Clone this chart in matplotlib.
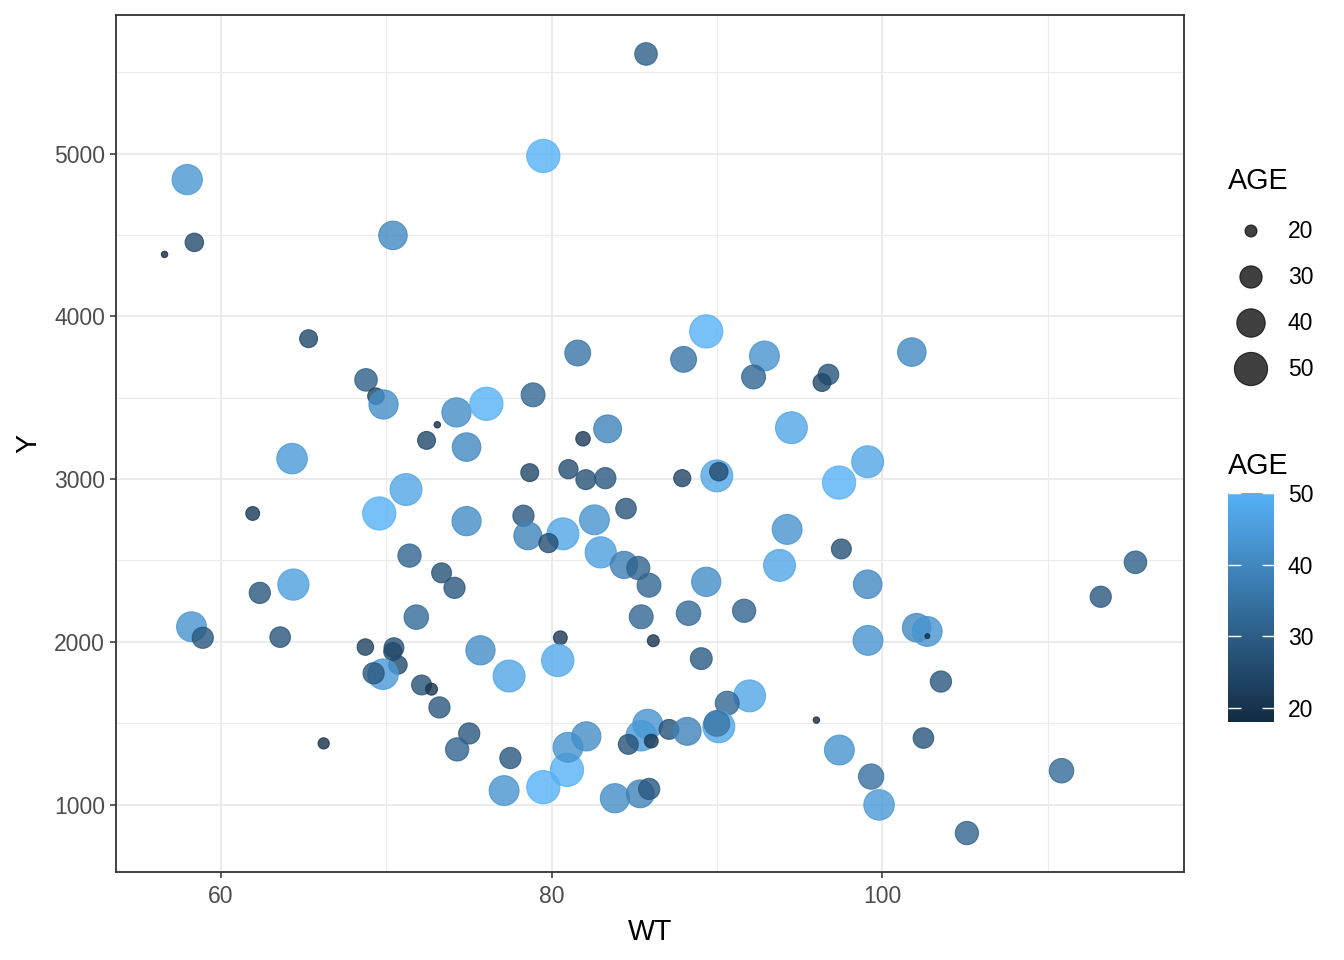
import matplotlib
matplotlib.use("Agg")
import matplotlib.pyplot as plt
import matplotlib.colors as mcolors
import matplotlib.colorbar as mcolorbar
import numpy as np

plt.rcParams['font.family'] = ['Liberation Sans', 'DejaVu Sans']

# data (WT, Y, AGE)
WT = [57.97, 58.4, 56.6, 70.41, 85.71, 79.5, 65.31, 68.78, 69.38, 69.84,
      73.09, 74.25, 76.06, 72.44, 74.86, 64.31, 71.2, 69.58, 61.93, 74.86,
      71.41, 73.35, 74.13, 64.39, 62.36, 89.35, 81.58, 87.98, 92.87, 92.21,
      96.74, 96.35, 78.88, 83.39, 94.5, 81.9, 78.68, 81.02, 82.07, 83.25,
      87.9, 89.99, 90.11, 97.38, 78.3, 78.56, 80.69, 79.81, 82.59, 84.5,
      82.97, 84.38, 85.24, 85.89, 89.35, 94.24, 93.78, 97.52, 85.42, 88.28,
      91.64, 101.78, 99.11, 99.11, 115.3, 113.2, 58.23, 58.91, 63.59, 71.82,
      68.74, 70.47, 70.4, 70.71, 69.81, 69.24, 72.14, 72.74, 73.22, 75.02,
      74.29, 66.22, 75.7, 77.43, 80.53, 80.37, 86.15, 89.05, 91.97, 90.62,
      96.01, 97.4, 77.51, 77.13, 79.5, 80.93, 80.99, 82.1, 83.83, 85.36,
      85.9, 85.81, 85.42, 84.64, 86.03, 87.1, 88.2, 90.11, 89.99, 102.07,
      102.71, 102.72, 99.13, 103.54, 102.48, 99.32, 99.8, 105.11, 110.83]
Y = [4841, 4455, 4381, 4498, 5613, 4986, 3863, 3610, 3510, 3459,
     3334, 3410, 3463, 3238, 3197, 3126, 2936, 2789, 2789, 2742,
     2530, 2424, 2332, 2352, 2301, 3908, 3775, 3736, 3757, 3628,
     3643, 3594, 3518, 3309, 3316, 3248, 3040, 3061, 2997, 3006,
     3006, 3020, 3046, 2979, 2775, 2652, 2664, 2607, 2750, 2819,
     2550, 2473, 2454, 2348, 2369, 2691, 2470, 2571, 2154, 2176,
     2191, 3781, 3107, 2354, 2489, 2277, 2093, 2025, 2029, 2152,
     1968, 1964, 1940, 1858, 1801, 1807, 1735, 1709, 1597, 1437,
     1339, 1376, 1948, 1790, 2025, 1886, 2007, 1897, 1668, 1623,
     1519, 1335, 1286, 1086, 1107, 1213, 1352, 1419, 1039, 1066,
     1096, 1494, 1423, 1370, 1390, 1462, 1450, 1478, 1499, 2087,
     2064, 2035, 2009, 1756, 1409, 1172, 998, 825, 1208]
AGE = [43.6, 25.4, 18.1, 40.3, 30.4, 50, 24.8, 30.4, 23.4, 41.6,
       18.1, 41.6, 50, 24.8, 40.3, 44.2, 47.1, 50, 21.2, 41.6,
       31.4, 27, 28.6, 45.6, 28.6, 50, 35.5, 35.5, 42.9, 32.4,
       27.8, 24.8, 32.4, 39.1, 47.1, 21.7, 24.8, 26.2, 27, 28.6,
       24, 47.1, 25.4, 50, 28.6, 39.1, 47.1, 26.2, 42.9, 27.8,
       45.6, 37.9, 31.4, 32.4, 41.6, 42.9, 47.1, 27, 32.4, 33.3,
       31.4, 40.3, 47.1, 40.3, 30.4, 28.6, 42.9, 28.6, 27.8, 33.3,
       23.4, 27, 25, 25.4, 44.2, 28.6, 27, 20, 28.6, 28.6,
       31.4, 19.6, 41.6, 47.1, 21.2, 48, 20, 29.5, 47.1, 32.4,
       18.1, 42.9, 28.6, 42.9, 50, 50, 42.9, 41.6, 41.6, 39.1,
       28.6, 42.9, 44.2, 27, 21.2, 27, 39.1, 47.1, 35.5, 40.3,
       42.9, 18, 42.9, 28.6, 27.8, 34.5, 44.2, 31.4, 33.3]

age_breaks = [20, 30, 40, 50]
age_lim = (18, 50)
x_ticks = [60, 80, 100]
y_ticks = [1000, 2000, 3000, 4000, 5000]

W, H = 1344, 960
cmap = mcolors.LinearSegmentedColormap.from_list("gg", ["#132B43", "#56B1F7"])
norm = mcolors.Normalize(*age_lim)

TICK_FS = 16.5
TITLE_FS = 20.6


def point_area(age):
    # ggplot scale_size: area proportional, range 1..6 -> diameter in px
    a = np.clip((np.asarray(age, float) - age_lim[0]) / (age_lim[1] - age_lim[0]), 0, 1)
    d_px = 5.67 * (1 + 5 * np.sqrt(a))
    d_pt = d_px * 0.72 - 0.6
    return d_pt ** 2


fig = plt.figure(figsize=(W / 100, H / 100), dpi=100)
ax = fig.add_axes([116 / W, 1 - 872 / H, (1184 - 116) / W, (872 - 15) / H])

ax.scatter(WT, Y, s=point_area(AGE), c=AGE, cmap=cmap, norm=norm,
           alpha=0.8, linewidths=0.8, zorder=3)

xr = max(WT) - min(WT)
yr = max(Y) - min(Y)
ax.set_xlim(min(WT) - 0.05 * xr, max(WT) + 0.05 * xr)
ax.set_ylim(min(Y) - 0.05 * yr, max(Y) + 0.05 * yr)

ax.set_xticks(x_ticks)
ax.set_yticks(y_ticks)
ax.set_xticks([70, 90, 110], minor=True)
ax.set_yticks([1500, 2500, 3500, 4500, 5500], minor=True)
ax.grid(True, which='major', color='#EBEBEB', lw=1.5, zorder=0)
ax.grid(True, which='minor', color='#EBEBEB', lw=0.8, zorder=0)
ax.set_axisbelow(True)
ax.tick_params(which='major', length=4.5, width=1.1, color='#333333',
               labelcolor='#4D4D4D', labelsize=TICK_FS, pad=3.5)
ax.tick_params(axis='x', which='major', pad=5)
ax.tick_params(which='minor', length=0)
for sp in ax.spines.values():
    sp.set_color('#333333')
    sp.set_linewidth(1.3)

ax.set_xlabel("WT", fontsize=TITLE_FS, labelpad=7)
ax.set_ylabel("Y", fontsize=TITLE_FS, labelpad=8)

# size legend
over = fig.add_axes([0, 0, 1, 1], facecolor='none')
over.set_xlim(0, W)
over.set_ylim(H, 0)
over.axis('off')
over.text(1228, 181, "AGE", fontsize=TITLE_FS, va='center', ha='left')
key_y = [231, 277, 323, 369]
over.scatter([1251] * len(age_breaks), key_y, s=point_area(age_breaks),
             color='black', alpha=0.75, linewidths=0.8)
for yy, b in zip(key_y, age_breaks):
    over.text(1288, yy, str(b), fontsize=TICK_FS, va='center', ha='left')

# colour bar legend
over.text(1228, 466, "AGE", fontsize=TITLE_FS, va='center', ha='left')
cax = fig.add_axes([1228 / W, 1 - 722 / H, 46 / W, (722 - 493) / H])
cb = mcolorbar.ColorbarBase(cax, cmap=cmap, norm=norm, ticks=age_breaks)
cb.outline.set_visible(False)
cax.yaxis.set_ticks_position('both')
cax.tick_params(axis='y', which='both', direction='in', left=True, right=True,
                color='white', length=9, width=1, labelsize=TICK_FS, pad=10,
                labelleft=False, labelright=True)
cax.minorticks_off()

fig.savefig("out.png", dpi=100)
